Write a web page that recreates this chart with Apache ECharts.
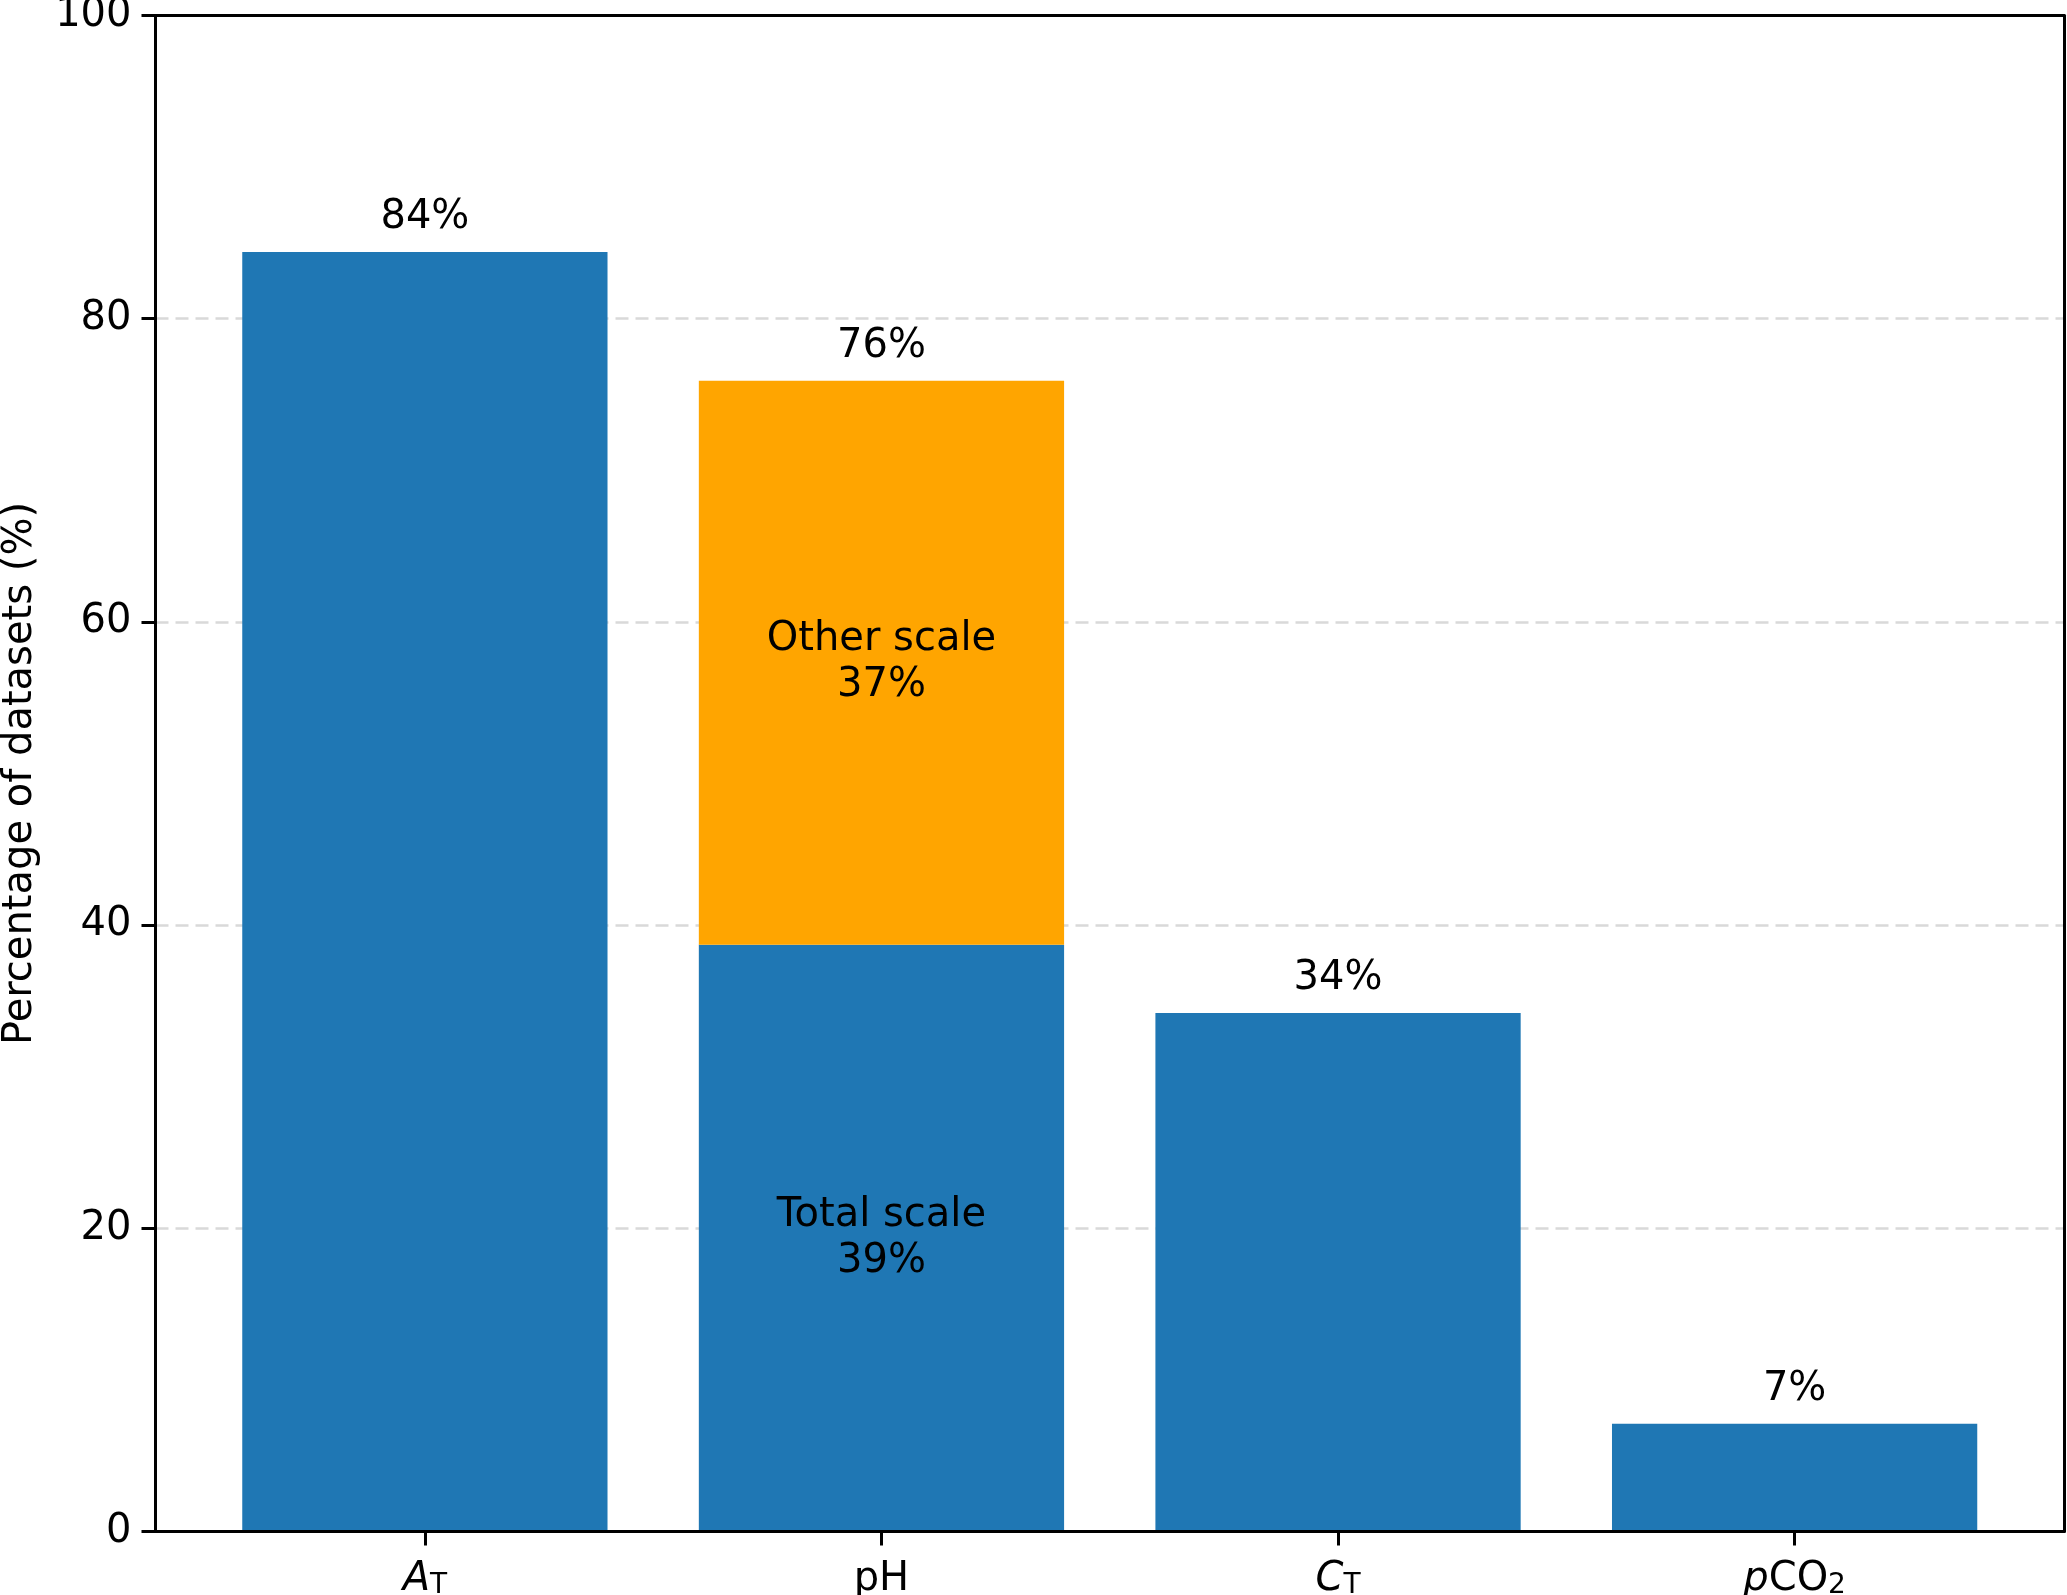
<!DOCTYPE html>
<html><head><meta charset="utf-8">
<script src="https://cdn.jsdelivr.net/npm/echarts@6/dist/echarts.min.js"></script>
<style>html,body{margin:0;padding:0;background:#fff}#c{width:2067px;height:1595px}</style>
</head><body><div id="c"></div>
<script>
// ---- data ----
const categories = ['{i|A}{s|T}', '{n|pH}', '{i|C}{s|T}', '{i|p}{n|CO}{s|2}'];
const totalScale = [84.4, 38.7, 34.2, 7.1];
const otherScale = [0, 37.2, 0, 0];
const totalNames = ['', 'Total scale', '', ''];
const otherNames = ['', 'Other scale', '', ''];
const yTicks = { min: 0, max: 100, interval: 20 };
const yAxisTitle = 'Percentage of datasets (%)';

// ---- chart ----
const FONT = 'DejaVu Sans';
const W = 2067, H = 1595;
const gridL = 155.5, gridR = 3, gridT = 15.5, gridB = 63.5;
const nCat = categories.length;
const span = (nCat - 0.2) * 1.1;            // axis extent in category units (bars + 5% margins)
const unitPx = (W - gridL - gridR) / span;
const pad = ((span - nCat) / 2) * unitPx;    // extra margin beyond the half-category band

const rich = {
  i: { fontFamily: FONT, fontSize: 40, fontStyle: 'italic', color: '#000', lineHeight: 48, verticalAlign: 'bottom' },
  n: { fontFamily: FONT, fontSize: 40, color: '#000', lineHeight: 48, verticalAlign: 'bottom' },
  s: { fontFamily: FONT, fontSize: 28, color: '#000', lineHeight: 28, padding: [35, 0, 0, 0], verticalAlign: 'bottom' }
};

const chart = echarts.init(document.getElementById('c'), null, { renderer: 'canvas' });

const insideLabel = { fontFamily: FONT, fontSize: 40, color: '#000', lineHeight: 46 };
const blueData = totalScale.map((v, i) => ({
  value: v,
  label: totalNames[i] ? { show: true, position: 'inside', formatter: totalNames[i] + '\n' + Math.round(v) + '%' } : { show: false }
}));
const orangeData = otherScale.map((v, i) => ({
  value: v,
  label: otherNames[i] ? { show: true, position: 'inside', formatter: otherNames[i] + '\n' + Math.round(v) + '%' } : { show: false }
}));
const zeroTop = totalScale.map(() => 0);

const frameLine = { show: true, onZero: false, lineStyle: { color: '#000', width: 3 } };

chart.setOption({
  animation: false,
  backgroundColor: '#fff',
  grid: [
    { left: gridL, right: gridR, top: gridT, bottom: gridB, outerBoundsMode: 'none', containLabel: false },
    { left: gridL + pad, right: gridR + pad, top: gridT, bottom: gridB, outerBoundsMode: 'none', containLabel: false }
  ],
  xAxis: [{
    gridIndex: 0, type: 'value', min: 0, max: 1, position: 'bottom', z: 5,
    axisLine: frameLine, axisTick: { show: false }, axisLabel: { show: false }, splitLine: { show: false }
  }, {
    gridIndex: 0, type: 'value', min: 0, max: 1, position: 'top', z: 5,
    axisLine: frameLine, axisTick: { show: false }, axisLabel: { show: false }, splitLine: { show: false }
  }, {
    gridIndex: 1, type: 'category', data: categories, position: 'bottom', boundaryGap: true, z: 5,
    axisLine: { show: false },
    axisTick: { show: true, alignWithLabel: true, length: 14, lineStyle: { color: '#000', width: 3 } },
    axisLabel: { show: true, interval: 0, margin: 20, rich: rich, color: '#000', fontSize: 40, fontFamily: FONT },
    splitLine: { show: false }
  }],
  yAxis: [{
    gridIndex: 0, type: 'value', min: yTicks.min, max: yTicks.max, interval: yTicks.interval, position: 'left', z: 1,
    name: yAxisTitle, nameLocation: 'middle', nameGap: 115, nameRotate: 90,
    nameTextStyle: { fontFamily: FONT, fontSize: 40, color: '#000' },
    axisLine: frameLine,
    axisTick: { show: true, length: 14, lineStyle: { color: '#000', width: 3 } },
    axisLabel: { margin: 24, fontFamily: FONT, fontSize: 40, color: '#000' },
    splitLine: { show: true, showMinLine: false, showMaxLine: false, lineStyle: { color: '#d9d9d9', width: 2.5, type: [13, 7] } }
  }, {
    gridIndex: 0, type: 'value', min: yTicks.min, max: yTicks.max, interval: yTicks.interval, position: 'right', z: 5,
    axisLine: frameLine, axisTick: { show: false }, axisLabel: { show: false }, splitLine: { show: false }
  }, {
    gridIndex: 1, type: 'value', min: yTicks.min, max: yTicks.max, interval: yTicks.interval, show: false
  }],
  series: [{
    type: 'bar', name: 'Total scale', stack: 's', stackStrategy: 'all', xAxisIndex: 2, yAxisIndex: 2,
    barWidth: '80%', itemStyle: { color: '#1f77b4' }, label: insideLabel, data: blueData
  }, {
    type: 'bar', name: 'Other scale', stack: 's', stackStrategy: 'all', xAxisIndex: 2, yAxisIndex: 2,
    barWidth: '80%', itemStyle: { color: '#ffa500' }, label: insideLabel, data: orangeData
  }, {
    type: 'bar', name: 'Total', stack: 's', stackStrategy: 'all', xAxisIndex: 2, yAxisIndex: 2,
    barWidth: '80%', itemStyle: { color: 'rgba(0,0,0,0)' },
    label: { show: true, position: 'top', distance: 14, fontFamily: FONT, fontSize: 40, color: '#000',
      formatter: p => Math.round(totalScale[p.dataIndex] + otherScale[p.dataIndex]) + '%' },
    data: zeroTop
  }]
});
</script></body></html>
